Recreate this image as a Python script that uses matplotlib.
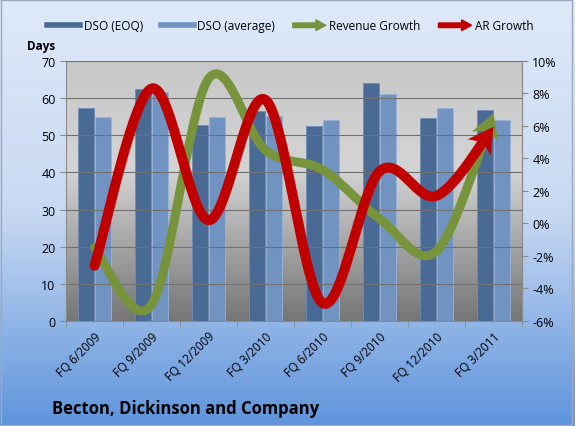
import numpy as np
import matplotlib
matplotlib.use('Agg')
import matplotlib.pyplot as plt
import matplotlib.patches as mpatches
from matplotlib.legend_handler import HandlerPatch
from matplotlib.lines import Line2D

# Dane
quarters = ['FQ 6/2009', 'FQ 9/2009', 'FQ 12/2009', 'FQ 3/2010',
            'FQ 6/2010', 'FQ 9/2010', 'FQ 12/2010', 'FQ 3/2011']
dso_eoq = [57.2, 62.4, 52.8, 56.6, 52.5, 64.1, 54.5, 56.8]
dso_avg = [55.0, 61.6, 55.0, 55.3, 54.0, 61.0, 57.2, 54.0]
revenue_growth = [-1.5, -5.0, 8.9, 4.5, 3.3, 0.3, -1.7, 6.8]
ar_growth = [-2.6, 8.3, 0.2, 7.6, -4.9, 3.2, 1.7, 5.95]

col_eoq = '#4a6a96'
col_avg = '#7093c2'
col_rev = '#77933c'
col_ar = '#c00000'

plt.rcParams['font.family'] = ['Open Sans', 'DejaVu Sans']

fig = plt.figure(figsize=(5.75, 4.27), dpi=100)

# tło całej figury - gradient niebieski
bg = fig.add_axes([0, 0, 1, 1], zorder=-10)
grad = np.linspace(0, 1, 256)
c_top = np.array([0.875, 0.914, 0.973])
c_mid = np.array([0.78, 0.85, 0.95])
c_bot = np.array([0.37, 0.58, 0.86])
rows = []
for g in grad:
    if g < 0.5:
        rows.append(c_top + (c_mid - c_top) * (g / 0.5))
    else:
        rows.append(c_mid + (c_bot - c_mid) * ((g - 0.5) / 0.5))
bg.imshow(np.array(rows)[:, None, :], aspect='auto', extent=(0, 1, 0, 1))
bg.set_axis_off()
bg.add_patch(mpatches.Rectangle((0.002, 0.003), 0.993, 0.994, fill=False,
                                edgecolor='#9aa9bd', lw=1.0, transform=bg.transAxes))

ax = fig.add_axes([0.1148, 0.246, 0.7930, 0.609])
ax.set_facecolor('none')
n = len(quarters)
x = np.arange(n)
ax.set_xlim(-0.5, n - 0.5)
ax.set_ylim(0, 70)

# tło obszaru wykresu - szary gradient
g = np.linspace(0, 1, 256)
top_c, mid_c, bot_c = 0.78, 0.83, 0.46
vals = np.where(g < 0.42, top_c + (mid_c - top_c) * g / 0.42,
                mid_c + (bot_c - mid_c) * (g - 0.42) / 0.58)
ax.imshow(np.repeat(vals[:, None, None], 3, axis=2), aspect='auto',
          extent=(-0.5, n - 0.5, 0, 70), zorder=0)

bw = 0.28
ax.bar(x - bw / 2 - 0.005, dso_eoq, bw, color=col_eoq, edgecolor='#6f8db5',
       lw=0.6, zorder=2)
ax.bar(x + bw / 2 + 0.005, dso_avg, bw, color=col_avg, edgecolor='#98b3d6',
       lw=0.6, zorder=2)

ax.set_yticks(range(0, 71, 10))
ax.grid(axis='y', color='#707070', lw=0.8, zorder=1)
ax.set_axisbelow(False)
ax.set_xticks(x)
ax.set_xticklabels(quarters, rotation=45, ha='right', rotation_mode='anchor',
                   fontsize=8.5)
ax.set_xticks(np.arange(-0.5, n, 1), minor=True)
ax.tick_params(axis='x', which='major', length=0, pad=6)
ax.tick_params(axis='x', which='minor', length=4, color='#8a8a8a')
ax.tick_params(axis='y', length=4, color='#8a8a8a', labelsize=9)
ax.spines['top'].set_visible(False)
for s in ['left', 'bottom', 'right']:
    ax.spines[s].set_color('#8a8a8a')
ax.text(-0.055, 1.035, 'Days', transform=ax.transAxes, fontsize=8.5,
        fontweight='bold', ha='center', va='bottom')

ax2 = ax.twinx()
ax2.set_ylim(-6, 10)
ax2.set_yticks(range(-6, 11, 2))
ax2.set_yticklabels([f'{v}%' for v in range(-6, 11, 2)])
ax2.tick_params(axis='y', length=4, color='#8a8a8a', labelsize=9)
for s in ['top', 'left', 'bottom']:
    ax2.spines[s].set_visible(False)
ax2.spines['right'].set_color('#8a8a8a')


def smooth(xs, ys, steps=40):
    # wygładzanie jak w Excelu (Catmull-Rom -> Bezier)
    pts = np.column_stack([xs, ys]).astype(float)
    ext = np.vstack([pts[0], pts, pts[-1]])
    out = []
    for i in range(len(pts) - 1):
        p0, p1, p2, p3 = ext[i], ext[i + 1], ext[i + 2], ext[i + 3]
        c1 = p1 + (p2 - p0) / 6
        c2 = p2 - (p3 - p1) / 6
        t = np.linspace(0, 1, steps)[:, None]
        seg = ((1 - t) ** 3) * p1 + 3 * ((1 - t) ** 2) * t * c1 + \
            3 * (1 - t) * t ** 2 * c2 + t ** 3 * p2
        out.append(seg if i == 0 else seg[1:])
    return np.vstack(out)


def arrow_line(axis, xs, ys, color, lw, head_len=25, head_w=28, zorder=3):
    curve = smooth(xs, ys)
    disp = axis.transData.transform(curve)
    tip = disp[-1]
    dist = np.hypot(*(disp - tip).T)
    back = disp[np.argmin(np.abs(dist - head_len))]
    u = (tip - back) / np.linalg.norm(tip - back)
    perp = np.array([-u[1], u[0]])
    base = tip - u * head_len
    keep = dist > head_len * 0.6
    axis.plot(curve[keep, 0], curve[keep, 1], color=color, lw=lw,
              solid_capstyle='round', solid_joinstyle='round', zorder=zorder)
    head = np.array([tip, base + perp * head_w / 2, tip - u * head_len * 0.75,
                     base - perp * head_w / 2])
    head_data = axis.transData.inverted().transform(head)
    axis.add_patch(mpatches.Polygon(head_data, closed=True, color=color,
                                    lw=0, zorder=zorder))


arrow_line(ax2, x, revenue_growth, col_rev, 6.5)
arrow_line(ax2, x, ar_growth, col_ar, 7.2, zorder=4)

ax.text(0.09, 0.022, 'Becton, Dickinson and Company', transform=fig.transFigure,
        fontsize=12, fontweight='bold', ha='left', va='bottom')


# legenda
def make_arrow(legend, orig_handle, xdescent, ydescent, width, height, fontsize):
    return mpatches.FancyArrow(0, height / 2, width, 0, width=height * 0.55,
                               head_width=height * 1.3, head_length=width * 0.3,
                               length_includes_head=True)


handles = [Line2D([], [], color=col_eoq, lw=4),
           Line2D([], [], color=col_avg, lw=4),
           mpatches.Patch(color=col_rev),
           mpatches.Patch(color=col_ar)]
labels = ['DSO (EOQ)', 'DSO (average)', 'Revenue Growth', 'AR Growth']
fig.legend(handles, labels, loc='center', bbox_to_anchor=(0.505, 0.937), ncol=4,
           frameon=False, fontsize=8.5, handlelength=2.8, columnspacing=1.5,
           handletextpad=0.3,
           handler_map={mpatches.Patch: HandlerPatch(patch_func=make_arrow)})

fig.savefig('out.png', dpi=100)
